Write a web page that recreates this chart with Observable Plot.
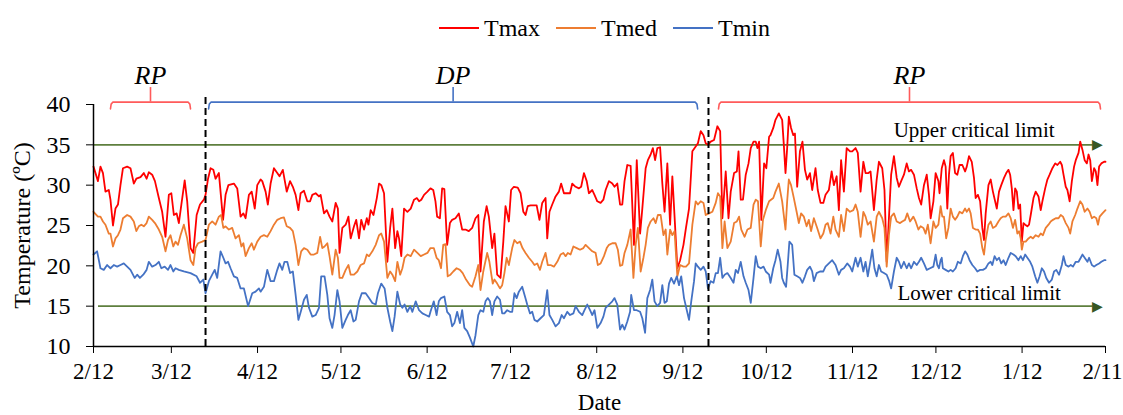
<!DOCTYPE html>
<html>
<head>
<meta charset="utf-8">
<script src="https://cdn.jsdelivr.net/npm/d3@7"></script>
<script src="https://cdn.jsdelivr.net/npm/@observablehq/plot@0.6"></script>
<style>
  html, body { margin: 0; padding: 0; background: #fff; }
  body { width: 1123px; height: 415px; overflow: hidden; font-family: "Liberation Serif", serif; }
  #legend { height: 50px; box-sizing: border-box; padding-top: 6px; padding-left: 86px;
    display: flex; justify-content: center; align-items: center; font-size: 24px; color: #000; }
  #legend .item { display: flex; align-items: center; margin: 0 8px; }
  #legend .sw { display: inline-block; width: 40px; height: 2px; margin-right: 5px; }
  #chart svg { display: block; }
</style>
</head>
<body>
<div id="legend"></div>
<div id="chart"></div>
<script>
// ---- data (day offset from 2/12, temperature °C) ----
const seriesNames = ["Tmax", "Tmed", "Tmin"];
const tickLabels = ["2/12","3/12","4/12","5/12","6/12","7/12","8/12","9/12","10/12","11/12","12/12","1/12","2/11"];
const yTicks = [10, 15, 20, 25, 30, 35, 40];

const tmax = [[0,32.3],[1.6,30.5],[2.5,32.3],[3.4,31.5],[4.3,29.2],[5.5,29.4],[6.1,28.2],[7.0,25.0],[7.9,27.1],[8.8,27.6],[9.7,30.0],[10.6,32.1],[12.1,32.3],[13.3,32.1],[14.5,30.2],[15.4,30.8],[16.9,31.0],[18.1,31.5],[19.1,30.8],[19.9,31.6],[21.1,31.3],[22.1,30.5],[23.5,28.4],[24.7,26.7],[25.9,23.6],[27.1,28.8],[28.0,29.0],[28.9,26.3],[29.9,26.5],[30.7,25.3],[31.6,27.6],[32.8,30.6],[33.7,28.0],[34.9,22.2],[35.9,21.6],[37.1,26.3],[38.3,27.6],[39.7,28.2],[40.3,28.8],[41.2,30.8],[42.1,32.1],[43.1,31.9],[43.9,30.8],[45.1,31.5],[46.6,25.7],[47.5,28.8],[48.5,30.0],[50.5,30.2],[51.7,29.6],[52.9,26.1],[53.9,26.5],[54.7,25.9],[55.9,28.8],[56.9,29.2],[58.0,27.1],[58.9,30.0],
[60.1,30.7],[60.7,30.5],[61.9,29.2],[62.7,27.6],[63.7,30.2],[64.9,32.1],[66.1,31.5],[66.9,31.1],[68.1,31.9],[69.5,29.2],[70.7,30.5],[71.7,29.8],[72.7,28.8],[73.7,26.9],[74.5,29.0],[75.7,29.3],[76.9,28.0],[77.9,28.0],[78.7,28.8],[79.9,29.0],[81.1,28.6],[81.7,28.8],[82.9,26.5],[83.9,26.9],[84.9,26.1],[85.9,25.5],[87.1,27.8],[87.9,27.1],[88.5,21.6],[89.5,24.7],[90.7,25.1],[91.7,26.1],[92.5,23.4],[93.7,24.9],[94.5,25.7],[95.5,23.4],[96.3,25.7],[97.3,24.5],[98.3,25.9],[98.9,25.1],[99.7,26.9],[100.7,26.3],[101.9,28.4],[102.7,30.2],[103.5,30.0],[104.5,29.0],[105.7,20.5],[106.7,24.7],[107.5,27.1],[108.5,22.2],[109.3,24.3],[109.9,23.4],[110.7,21.2],[111.7,27.1],[112.9,26.7],[114.1,27.1],[115.3,28.2],[116.3,28.4],[117.1,28.0],[117.9,28.2],[118.9,28.8],[120.1,29.2],
[121.2,29.6],[122.2,29.4],[123.0,28.0],[123.6,26.1],[124.6,25.9],[125.4,29.6],[126.2,29.5],[127.2,22.6],[128.2,25.3],[129.0,25.7],[130.2,25.9],[131.4,26.5],[132.6,24.5],[133.8,24.5],[135.0,24.3],[136.2,24.7],[137.4,25.9],[138.4,26.3],[139.2,19.3],[140.4,25.5],[141.4,27.4],[142.2,26.1],[143.4,22.2],[144.2,24.0],[145.2,18.9],[146.4,18.5],[147.4,23.0],[148.2,27.4],[149.4,25.5],[150.2,29.4],[151.2,29.8],[152.6,29.7],[153.6,29.0],[154.6,26.7],[155.4,26.3],[156.2,27.4],[157.2,27.5],[158.4,27.5],[159.4,27.5],[160.4,25.7],[161.4,27.8],[162.6,28.4],[163.2,23.4],[164.0,26.7],[165.0,27.6],[166.2,28.6],[167.4,29.2],[168.2,30.2],[169.2,29.0],[170.4,29.0],[171.4,29.0],[172.2,30.2],[173.4,29.8],[174.6,29.6],[175.4,29.8],[176.4,31.5],[177.4,30.5],[178.2,29.0],[179.4,29.4],[180.2,28.8],[181.2,28.0],
[182.4,27.8],[183.4,28.2],[184.2,29.4],[185.4,30.5],[186.6,30.2],[187.4,29.8],[188.4,30.2],[189.4,27.6],[190.2,27.6],[191.0,30.5],[192.0,32.5],[193.2,32.4],[194.4,22.6],[195.4,33.1],[196.6,24.0],[197.4,27.1],[198.6,32.1],[199.4,33.1],[200.4,33.8],[201.2,34.6],[202.0,33.1],[202.8,34.6],[203.8,34.7],[204.6,30.2],[205.4,26.7],[206.4,32.7],[207.4,25.1],[208.2,31.1],[209.0,26.1],[210.0,19.7],[211.0,20.7],[212.2,22.6],[213.1,24.7],[214.2,27.1],[215.4,34.2],[216.6,34.8],[217.4,35.2],[218.4,36.7],[219.4,36.2],[220.2,35.2],[221.0,35.0],[222.0,35.4],[223.2,35.6],[224.4,37.3],[225.4,36.7],[226.2,25.9],[227.4,31.7],[228.4,25.9],[229.2,29.2],[230.4,31.5],[231.4,31.7],[232.0,34.2],[232.8,28.2],[233.6,28.2],[234.6,31.3],[235.6,32.7],[236.4,34.6],[237.4,35.4],[238.2,35.4],[238.8,34.6],[239.4,35.4],[240.2,25.7],[241.2,32.7],[242.0,32.1],[243.0,36.0],
[243.5,36.2],[244.5,37.1],[245.3,38.1],[246.5,38.9],[247.7,38.1],[248.3,35.0],[248.9,31.5],[249.5,34.6],[250.1,38.5],[250.9,37.1],[251.7,36.2],[252.3,36.4],[253.1,29.8],[254.1,34.2],[255.0,35.4],[255.9,31.9],[256.7,30.7],[257.7,31.5],[258.5,29.4],[259.7,32.1],[260.5,29.4],[261.5,27.8],[262.5,27.8],[263.3,28.8],[264.5,29.4],[265.5,31.7],[266.3,30.0],[267.3,31.1],[268.1,26.9],[268.9,33.1],[269.9,29.2],[270.9,34.6],[272.1,34.2],[272.9,34.2],[274.1,34.6],[274.9,34.0],[275.9,29.2],[276.9,32.9],[277.7,31.5],[278.7,31.5],[279.5,31.7],[280.7,26.9],[281.7,30.7],[282.5,32.9],[283.7,32.1],[284.5,29.4],[285.3,20.5],[286.1,25.9],[286.9,31.3],[287.9,33.6],[288.9,30.9],[289.7,29.8],[290.5,30.5],[291.5,31.3],[292.5,32.7],[293.3,31.7],[294.1,31.9],[295.1,31.3],[296.1,29.6],[296.9,28.4],[297.7,27.6],[298.7,30.0],[299.7,31.3],[300.5,28.8],[301.1,25.9],[302.1,28.0],
[302.9,31.5],[303.9,30.5],[304.3,29.0],[305.1,32.1],[305.9,33.1],[306.5,32.3],[307.1,27.1],[307.7,31.3],[308.3,33.6],[309.1,34.0],[309.9,31.5],[310.7,31.3],[311.5,32.5],[312.5,32.5],[313.5,31.7],[314.1,32.3],[314.9,33.6],[315.9,32.9],[316.7,30.9],[317.3,28.4],[318.1,28.8],[318.9,28.0],[319.7,24.7],[320.3,23.2],[320.9,26.5],[321.9,30.0],[322.7,30.7],[323.5,29.2],[324.3,28.0],[324.9,27.1],[325.7,29.2],[326.5,30.0],[327.5,30.9],[328.3,31.5],[329.1,31.9],[329.7,31.3],[330.3,29.6],[330.9,26.9],[331.5,29.6],[332.1,29.2],[332.7,27.1],[333.3,27.6],[333.9,23.0],[334.5,25.3],[335.1,25.1],[335.9,24.9],[336.5,25.1],[337.1,26.3],[338.1,28.4],[338.9,29.2],[339.9,28.6],[340.7,26.9],[341.3,28.0],[342.3,29.6],[343.1,30.7],[343.9,31.3],[344.9,32.1],[345.9,32.7],[346.7,32.5],[347.7,32.9],[348.3,32.5],[348.9,31.3],[349.7,29.8],[350.3,29.4],[351.1,28.0],[351.9,30.5],[352.7,32.3],[353.3,33.1],[354.3,34.0],[354.9,35.4],[355.7,34.4],[356.5,33.1],[357.3,32.7],[357.9,33.8],[358.5,33.1],[359.1,30.5],[359.9,32.1],[360.5,31.7],[361.1,30.0],[361.7,32.3],[362.5,32.7],[363.5,32.9],[364,32.9]];

const tmed = [[0,26.7],[1.6,26.1],[2.5,26.1],[3.4,25.5],[4.3,25.1],[5.5,24.0],[6.1,24.0],[7.0,22.4],[7.9,23.4],[8.8,23.8],[9.7,24.5],[10.6,25.9],[12.1,26.3],[13.3,26.1],[14.5,25.5],[15.4,24.3],[16.3,24.9],[17.2,25.1],[18.1,24.9],[19.1,25.3],[19.9,26.1],[21.1,25.7],[22.1,25.3],[23.5,24.5],[24.7,23.6],[25.9,21.8],[26.8,23.2],[27.7,23.8],[28.7,22.4],[29.5,23.0],[30.4,22.6],[31.3,23.8],[32.5,25.1],[33.7,23.4],[34.9,20.7],[35.9,20.1],[36.7,22.2],[37.6,22.8],[39.1,23.0],[40.3,23.2],[41.5,25.1],[42.7,25.5],[43.9,25.1],[45.1,26.1],[45.9,26.3],[46.7,24.7],[47.5,24.9],[48.7,24.5],[49.9,24.7],[51.1,23.4],[52.3,23.8],[53.2,22.4],[53.9,22.8],[54.7,21.2],[55.9,22.2],[56.9,22.8],[57.7,22.0],[58.9,23.0],
[60.1,23.6],[61.3,23.8],[62.5,23.6],[63.7,24.3],[64.9,25.1],[66.1,25.7],[67.3,25.9],[68.5,26.0],[69.5,24.9],[70.7,24.7],[71.7,24.3],[72.7,22.6],[73.7,20.1],[74.7,21.8],[75.7,22.2],[76.9,22.0],[78.1,21.4],[79.3,21.4],[80.5,21.6],[81.5,23.6],[82.3,22.2],[83.1,22.4],[84.1,22.8],[84.9,21.2],[85.9,18.9],[87.1,22.0],[87.9,21.0],[88.5,18.5],[89.5,18.5],[90.7,19.5],[91.7,20.1],[92.5,18.9],[93.7,18.9],[94.9,19.3],[96.1,20.1],[97.3,20.3],[98.3,21.4],[99.1,21.2],[100.3,21.8],[101.5,22.6],[102.7,23.8],[103.5,24.0],[104.5,23.0],[105.7,18.5],[106.7,19.3],[107.5,18.9],[108.5,18.1],[109.3,20.5],[110.3,18.9],[111.1,19.7],[111.9,21.0],[112.9,21.4],[114.1,21.2],[115.3,22.0],[116.5,21.6],[117.7,21.2],[118.9,21.4],[120.1,21.6],
[121.2,22.2],[122.4,22.2],[123.4,21.0],[124.2,20.7],[125.0,19.7],[125.8,22.6],[126.6,22.7],[127.4,18.7],[128.4,18.9],[129.4,19.3],[130.6,19.7],[131.8,19.5],[132.8,19.1],[134.0,18.3],[135.4,17.6],[136.2,17.4],[137.4,18.7],[138.4,20.1],[139.2,17.0],[140.2,19.3],[141.6,21.6],[142.4,20.5],[143.6,17.8],[144.2,18.3],[145.2,17.8],[146.2,17.2],[147.0,17.6],[147.8,19.1],[148.6,21.0],[149.4,20.1],[150.6,22.2],[151.4,23.2],[152.4,22.8],[153.4,23.0],[154.3,22.2],[155.4,21.6],[156.6,21.0],[157.8,20.5],[158.6,20.1],[159.6,20.3],[160.6,19.5],[161.4,20.5],[162.6,21.6],[163.4,20.1],[164.4,20.1],[165.6,19.9],[166.8,20.5],[168.0,21.4],[169.0,21.6],[169.8,21.2],[170.6,21.6],[171.6,21.4],[172.6,22.4],[173.8,22.2],[175.0,22.0],[176.2,22.2],[177.0,22.6],[178.2,22.2],[179.4,21.8],[180.6,21.6],[181.4,20.1],
[182.4,20.3],[183.6,21.2],[184.6,22.2],[185.4,22.6],[186.6,22.8],[187.8,22.8],[188.6,22.0],[189.4,20.0],[190.2,20.1],[191.0,21.6],[192.0,22.6],[193.2,24.5],[194.2,18.5],[195.0,22.6],[195.8,24.7],[196.8,19.3],[197.8,21.0],[198.6,22.6],[199.4,24.7],[200.4,25.5],[201.4,25.9],[202.2,25.3],[203.0,26.3],[204.0,26.3],[205.0,23.8],[205.8,24.5],[206.4,21.4],[207.4,24.5],[208.2,23.8],[209.0,24.3],[210.0,18.7],[211.0,20.1],[212.2,19.9],[213.1,19.9],[214.2,20.3],[215.4,25.1],[216.6,28.0],[217.4,27.6],[218.4,28.0],[219.4,27.8],[220.2,26.3],[221.4,26.5],[222.6,26.7],[223.8,27.8],[224.6,29.0],[225.4,28.6],[226.2,22.2],[227.0,25.5],[228.0,22.2],[229.2,23.0],[230.4,25.3],[231.4,25.5],[232.2,26.1],[233.0,24.5],[234.2,23.6],[235.2,24.5],[236.4,24.7],[237.4,27.6],[238.2,28.2],[239.0,28.0],[240.0,22.4],[240.8,25.7],[241.8,26.9],[243.0,28.0],
[244.5,28.4],[245.3,29.2],[246.5,30.2],[247.7,28.0],[248.9,24.5],[249.5,28.0],[250.1,30.7],[250.9,30.0],[251.9,28.4],[252.9,26.7],[253.7,25.3],[254.5,26.5],[255.5,26.1],[256.5,24.9],[257.3,25.7],[258.1,24.3],[259.1,25.9],[260.3,24.7],[261.5,23.4],[262.5,24.0],[263.3,25.1],[264.1,25.3],[265.1,24.0],[266.1,26.1],[266.9,24.5],[268.1,23.6],[268.9,26.3],[269.9,24.3],[270.9,27.1],[272.1,26.7],[273.3,26.9],[274.1,27.6],[274.9,26.7],[275.9,23.6],[276.9,26.7],[277.7,26.1],[278.5,25.1],[279.5,25.5],[280.7,23.0],[281.7,26.1],[282.5,26.7],[283.7,25.9],[284.5,24.7],[285.3,19.9],[286.1,23.8],[286.9,26.1],[287.9,26.5],[288.9,25.5],[290.1,25.3],[290.9,25.5],[291.9,25.7],[292.7,26.5],[293.7,25.5],[294.9,26.1],[295.7,25.5],[296.7,24.5],[297.5,24.9],[298.5,24.7],[299.3,24.0],[300.1,25.1],[301.1,22.8],[302.1,25.5],
[302.9,24.7],[303.9,25.1],[304.7,27.4],[305.3,26.1],[305.9,26.1],[306.7,23.4],[307.5,24.7],[308.3,27.1],[309.1,26.1],[309.9,25.7],[310.7,26.1],[311.5,26.7],[312.5,26.5],[313.5,27.1],[314.1,26.7],[314.9,27.1],[315.5,26.5],[316.3,24.7],[317.3,24.5],[318.1,24.5],[318.9,24.0],[319.7,22.2],[320.3,21.4],[320.9,23.2],[321.9,25.1],[322.7,25.5],[323.5,24.7],[324.5,24.9],[325.5,25.5],[326.3,25.9],[327.1,26.1],[328.1,26.1],[329.1,26.5],[329.9,25.9],[330.7,24.7],[331.5,25.7],[332.3,24.0],[332.9,24.3],[333.5,23.4],[333.9,22.0],[334.5,23.0],[335.3,23.0],[336.3,23.4],[337.1,23.6],[337.9,23.4],[338.9,23.8],[339.9,23.6],[340.7,24.0],[341.5,23.8],[342.5,24.7],[343.5,25.1],[344.3,25.5],[345.1,25.7],[346.1,25.9],[347.1,25.9],[347.9,26.3],[348.7,26.1],[349.7,25.3],[350.7,24.7],[351.3,24.0],[352.1,25.5],[353.1,26.3],[353.9,27.1],[354.9,28.0],[355.7,27.6],[356.5,26.7],[357.5,27.1],[358.3,26.7],[359.1,25.9],[359.9,26.1],[360.7,25.9],[361.3,25.1],[361.9,26.1],[362.9,26.5],[364,26.9]];

const tmin = [[0,21.4],[1.3,21.8],[2.5,19.7],[3.7,19.5],[4.9,20.1],[6.1,19.7],[7.3,20.1],[8.5,19.9],[9.7,20.1],[10.9,20.3],[12.1,19.9],[13.3,19.5],[14.8,18.5],[15.7,18.9],[16.7,18.5],[17.9,18.9],[19.1,19.5],[19.9,20.5],[21.1,19.9],[22.3,20.1],[23.5,20.5],[24.4,19.7],[25.6,19.9],[26.8,19.5],[27.7,20.1],[28.7,19.3],[29.5,19.7],[30.7,19.5],[32.5,19.3],[34.9,19.1],[37.1,18.7],[38.3,17.9],[39.5,18.3],[40.3,16.6],[41.5,18.1],[42.7,18.9],[43.6,19.5],[44.5,18.5],[45.7,21.8],[46.7,21.0],[47.5,20.3],[48.4,20.5],[49.3,19.7],[50.5,18.7],[51.7,18.5],[52.9,17.2],[54.1,17.2],[55.6,15.0],[57.1,16.6],[58.3,16.8],[59.5,17.2],
[60.1,16.8],[61.3,17.4],[62.5,19.5],[63.7,18.1],[64.9,18.1],[66.1,19.5],[66.9,20.3],[67.9,19.5],[68.7,20.5],[69.7,20.5],[70.7,19.1],[71.7,19.3],[72.7,16.4],[73.7,13.3],[74.7,14.5],[75.7,15.8],[76.7,16.4],[77.5,14.8],[78.7,13.7],[79.9,13.9],[81.1,14.8],[81.9,18.7],[83.1,18.7],[84.1,16.4],[84.9,13.5],[85.9,12.3],[86.7,13.9],[87.7,17.0],[88.5,15.6],[89.5,12.3],[90.7,13.3],[91.5,13.9],[92.5,14.5],[93.5,13.1],[94.3,13.3],[95.5,15.6],[96.5,16.6],[97.9,16.6],[99.1,16.0],[100.3,15.4],[101.5,15.2],[102.3,16.6],[103.5,17.8],[104.7,17.2],[105.7,14.8],[106.7,13.1],[107.5,11.9],[108.3,13.7],[109.3,16.8],[110.3,15.2],[111.1,14.8],[111.9,15.2],[112.9,14.3],[113.9,15.0],[114.7,14.3],[115.9,15.6],[117.1,14.5],[118.3,14.1],[119.5,13.9],[120.7,13.7],
[121.2,14.3],[122.4,15.6],[123.4,13.9],[124.2,15.6],[125.0,16.0],[126.2,16.2],[127.2,14.3],[128.2,13.9],[129.0,12.5],[129.8,12.9],[130.8,14.3],[131.8,12.9],[132.6,14.5],[133.4,12.3],[134.4,11.9],[135.4,11.1],[136.6,10.0],[137.4,11.4],[138.4,13.9],[139.2,14.5],[140.2,14.3],[141.0,15.6],[141.8,16.0],[142.6,15.6],[143.4,13.9],[144.2,15.6],[145.2,16.2],[146.2,15.8],[147.0,14.1],[147.8,14.1],[148.8,14.5],[149.8,14.3],[150.6,14.3],[151.4,16.6],[152.2,16.0],[153.0,16.8],[154.2,17.4],[155.2,16.2],[156.0,15.2],[157.0,14.1],[157.8,14.3],[158.6,13.3],[159.6,13.1],[160.8,13.5],[162.0,13.9],[163.2,17.0],[164.0,13.9],[165.0,13.3],[166.2,12.5],[167.4,12.9],[168.4,13.9],[169.2,13.5],[170.4,14.3],[171.4,13.9],[172.6,14.1],[173.4,15.0],[174.6,14.3],[175.8,13.9],[176.6,14.5],[177.6,15.2],[178.6,14.5],[179.4,13.9],[180.2,14.5],[181.2,12.3],
[182.4,12.9],[183.4,13.7],[184.2,14.8],[185.4,15.2],[186.6,15.6],[187.4,16.0],[188.4,15.2],[189.4,12.1],[190.2,12.7],[191.0,12.1],[192.0,13.1],[193.0,14.3],[193.4,16.4],[194.4,14.5],[195.4,14.5],[196.6,14.3],[197.4,13.5],[198.4,11.7],[199.2,16.0],[200.2,17.0],[201.0,18.3],[201.8,15.6],[202.8,15.0],[203.8,15.4],[204.6,17.6],[205.4,15.4],[206.2,15.6],[207.0,17.8],[207.8,18.5],[208.8,17.8],[209.8,18.7],[210.6,17.6],[211.4,18.7],[212.4,16.0],[213.4,14.5],[214.2,13.3],[215.0,15.6],[216.0,18.1],[216.6,20.3],[217.4,19.9],[218.4,19.5],[219.4,19.9],[220.2,19.3],[221.0,17.2],[222.0,18.1],[223.0,17.9],[223.8,19.1],[224.6,19.1],[225.4,21.0],[226.2,18.5],[227.0,18.9],[228.0,19.1],[229.2,18.5],[230.2,17.9],[231.0,19.5],[231.8,19.1],[232.8,20.5],[233.8,18.7],[234.6,17.9],[235.6,17.0],[236.4,15.4],[237.4,18.5],[238.2,21.2],[239.0,19.9],[240.0,19.7],[241.0,19.9],[241.8,19.3],[243.0,18.9],
[243.5,17.9],[244.5,19.7],[245.3,20.7],[246.1,22.0],[247.1,20.5],[247.7,18.5],[248.3,17.9],[249.1,17.4],[249.7,20.1],[250.3,23.0],[251.3,22.6],[252.1,18.9],[253.1,18.7],[254.1,18.5],[255.0,17.9],[255.9,18.7],[256.7,19.5],[257.7,19.9],[258.5,19.3],[259.1,18.1],[260.1,19.1],[261.3,19.3],[262.5,19.3],[263.3,19.9],[264.5,20.3],[265.7,20.7],[266.9,20.1],[268.1,18.9],[268.9,19.5],[269.9,19.7],[271.1,20.3],[272.1,19.9],[272.9,19.3],[274.1,21.0],[274.9,19.9],[275.9,21.0],[276.9,19.3],[277.7,20.5],[278.5,18.7],[279.5,20.7],[280.1,22.0],[280.9,19.7],[281.7,18.7],[282.5,20.1],[283.3,19.3],[284.3,19.1],[285.3,18.9],[286.2,18.1],[286.9,17.2],[287.9,19.3],[288.9,21.0],[289.7,20.5],[290.5,19.7],[291.5,20.5],[292.5,19.7],[293.3,20.3],[294.1,19.7],[295.1,20.5],[296.1,20.1],[296.9,20.5],[297.7,21.0],[298.7,20.3],[299.7,19.5],[300.9,19.7],[302.1,19.9],
[302.9,21.4],[303.5,20.1],[304.1,19.7],[304.7,20.7],[305.1,21.0],[305.5,19.7],[306.5,19.5],[307.5,19.3],[308.3,19.5],[309.1,19.3],[310.1,19.7],[310.9,20.5],[311.9,20.3],[312.7,21.2],[313.5,21.8],[314.3,21.4],[315.1,20.7],[316.1,20.1],[317.1,19.7],[317.9,19.3],[318.9,19.5],[319.9,19.5],[320.9,19.7],[321.9,20.3],[322.7,20.5],[323.3,20.1],[324.1,21.2],[324.9,20.7],[325.7,21.0],[326.5,20.3],[327.3,20.7],[328.1,20.1],[329.1,21.0],[329.9,21.6],[330.9,21.4],[331.7,21.2],[332.7,20.7],[333.5,21.2],[334.3,20.7],[335.1,21.4],[335.9,21.0],[336.9,20.5],[337.7,19.9],[338.7,18.7],[339.5,17.9],[340.3,18.7],[341.1,19.7],[341.9,19.3],[342.7,18.5],[343.7,17.9],[344.7,18.3],[345.5,19.3],[346.3,19.5],[347.3,18.9],[348.3,20.1],[348.9,21.2],[349.7,20.1],[350.7,19.9],[351.5,20.1],[352.3,19.9],[353.3,20.5],[354.3,20.5],[355.1,21.0],[355.7,21.4],[356.5,21.0],[357.5,20.5],[358.1,21.0],[359.1,20.1],[359.9,19.9],[360.7,20.1],[361.7,20.3],[362.5,20.5],[363.5,20.7],[364,20.7]];

// critical limits (°C) and their labels
const limitValues = [35, 15];
const limitLabels = ["Upper critical limit", "Lower critical limit"];
// periods (day offsets) and labels
const periodLabels = ["RP", "DP", "RP"];
const periodStart = [6.1, 41.4, 224.8];
const periodEnd = [34.9, 217.3, 362.2];
const periodBreaks = [40.3, 221.2];

// ---- helpers ----
const start = Date.UTC(2018, 1, 12);
const toDate = d => new Date(start + d * 864e5);
const tickDates = tickLabels.map(s => {
  const [m, d] = s.split("/").map(Number);
  let t = Date.UTC(2018, m - 1, d);
  if (t < start) t = Date.UTC(2019, m - 1, d);
  return new Date(t);
});
const labelByTime = new Map(tickDates.map((d, i) => [+d, tickLabels[i]]));

const colors = {Tmax: "#ff0000", Tmed: "#ed7d31", Tmin: "#4472c4"};
const periodColor = {RP: "#ff5b5b", DP: "#4472c4"};
const rows = [];
[tmax, tmed, tmin].forEach((arr, k) => arr.forEach(([d, t]) => rows.push({name: seriesNames[k], date: toDate(d), t})));

const periods = periodLabels.map((label, i) => ({label, from: periodStart[i], to: periodEnd[i], mid: (periodStart[i] + periodEnd[i]) / 2}));
const braceRows = [];
periods.forEach((p, i) => {
  const pts = [[p.from, 39.45], [p.from + 0.25, 40.05], [p.from + 0.9, 40.3], [p.to - 0.9, 40.3], [p.to - 0.25, 40.05], [p.to, 39.45]];
  pts.forEach(([d, t]) => braceRows.push({id: i, label: p.label, date: toDate(d), t}));
});

const limits = limitValues.map((t, i) => ({t, label: limitLabels[i], from: i === 0 ? 0 : 1.8, to: 359.5,
  textDay: i === 0 ? 287.8 : 289.2, textT: i === 0 ? t + 1.8 : t + 1.6}));

// legend
const legend = document.getElementById("legend");
seriesNames.forEach(n => {
  const it = document.createElement("span"); it.className = "item";
  const sw = document.createElement("span"); sw.className = "sw"; sw.style.background = colors[n];
  it.appendChild(sw); it.appendChild(document.createTextNode(n));
  legend.appendChild(it);
});

const lastTick = tickDates[tickDates.length - 1];
const chart = Plot.plot({
  width: 1123, height: 365,
  marginTop: 54, marginBottom: 69, marginLeft: 93, marginRight: 18,
  style: {fontFamily: "Liberation Serif", fontSize: "24px", color: "#000", background: "#fff", overflow: "visible"},
  x: {type: "utc", domain: [toDate(0), toDate(364)]},
  y: {domain: [10, 40]},
  marks: [
    Plot.axisX({ticks: tickDates, tickFormat: d => (+d === +lastTick ? "" : labelByTime.get(+d)), tickSize: 7, tickPadding: 9, fontSize: 23,
      label: "Date", labelAnchor: "center", labelOffset: 63, labelArrow: "none"}),
    Plot.axisX({ticks: [lastTick], tickFormat: d => labelByTime.get(+d), tickSize: 0, tickPadding: 16, dx: -3, fontSize: 23, label: null}),
    Plot.axisY({ticks: yTicks, tickSize: 7, tickPadding: 16, fontSize: 24,
      label: "Temperature (ºC)", labelAnchor: "center", labelOffset: 81, labelArrow: "none"}),
    // critical limits
    Plot.ruleY(limits, {y: "t", x1: d => toDate(d.from), x2: d => toDate(d.to), stroke: "#5e7f3e", strokeWidth: 1.6}),
    Plot.text(limits, {x: d => toDate(d.to + 3.5), y: "t", text: () => "\u25B6", textAnchor: "end", fontFamily: "DejaVu Sans", fontSize: 14, fill: "#385723"}),
    Plot.text(limits, {x: d => toDate(d.textDay), y: "textT", text: "label", textAnchor: "start", fontSize: 21}),
    // series
    Plot.line(rows, {x: "date", y: "t", z: "name", stroke: d => colors[d.name], strokeWidth: 1.8}),
    // period braces
    Plot.line(braceRows, {x: "date", y: "t", z: "id", stroke: d => periodColor[d.label], strokeWidth: 1.6}),
    Plot.ruleX(periods, {x: d => toDate(d.mid), y1: 40.3, y2: 42.1, stroke: d => periodColor[d.label], strokeWidth: 1.6}),
    Plot.text(periods, {x: d => toDate(d.mid), y: 43.6, text: "label", fontStyle: "italic", fontSize: 26}),
    // period breaks
    Plot.ruleX(periodBreaks, {x: d => toDate(d), y1: 10, y2: 41.1, stroke: "#000", strokeWidth: 2, strokeDasharray: "7,4"}),
    // axis lines
    Plot.ruleX([toDate(0)], {stroke: "#000", strokeWidth: 1.5}),
    Plot.ruleY([10], {stroke: "#000", strokeWidth: 1.5})
  ]
});
document.getElementById("chart").appendChild(chart);
</script>
</body>
</html>
